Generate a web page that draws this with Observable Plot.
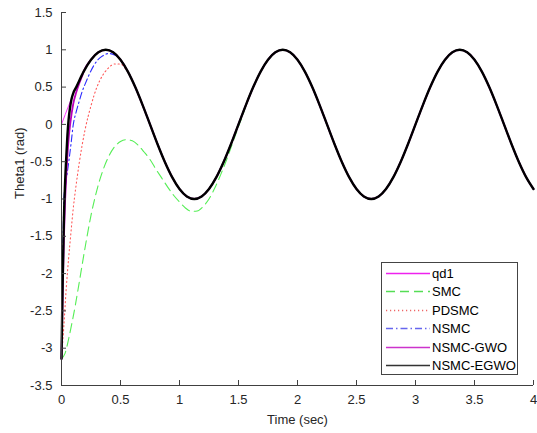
<!DOCTYPE html>
<html><head><meta charset="utf-8">
<script src="https://cdn.jsdelivr.net/npm/d3@7"></script>
<script src="https://cdn.jsdelivr.net/npm/@observablehq/plot@0.6"></script>
<style>
body{margin:0;background:#fff;font-family:Arial,"Liberation Sans",sans-serif;}
#wrap{position:relative;width:537px;height:433px;}
#legend{position:absolute;left:381px;top:262px;width:135px;height:111px;border:1px solid #444;background:#fff;}
</style></head><body>
<div id="wrap"></div>
<script>
// reference trajectory qd1 (rad) sampled every 0.0625 s
const time = [0,0.0625,0.125,0.1875,0.25,0.3125,0.375,0.4375,0.5,0.5625,0.625,0.6875,0.75,0.8125,0.875,0.9375,1,1.0625,1.125,1.1875,1.25,1.3125,1.375,1.4375,1.5,1.5625,1.625,1.6875,1.75,1.8125,1.875,1.9375,2,2.0625,2.125,2.1875,2.25,2.3125,2.375,2.4375,2.5,2.5625,2.625,2.6875,2.75,2.8125,2.875,2.9375,3,3.0625,3.125,3.1875,3.25,3.3125,3.375,3.4375,3.5,3.5625,3.625,3.6875,3.75,3.8125,3.875,3.9375,4];
const qd1 = [0,0.259,0.5,0.707,0.866,0.966,1,0.966,0.866,0.707,0.5,0.259,0,-0.259,-0.5,-0.707,-0.866,-0.966,-1,-0.966,-0.866,-0.707,-0.5,-0.259,0,0.259,0.5,0.707,0.866,0.966,1,0.966,0.866,0.707,0.5,0.259,0,-0.259,-0.5,-0.707,-0.866,-0.966,-1,-0.966,-0.866,-0.707,-0.5,-0.259,0,0.259,0.5,0.707,0.866,0.966,1,0.966,0.866,0.707,0.5,0.259,0,-0.259,-0.5,-0.707,-0.866];

// transient parts of each controller's response (after these they track qd1)
const smcT = [0,0.03,0.06,0.09,0.12,0.15,0.2,0.25,0.3,0.35,0.4,0.45,0.5,0.55,0.6,0.65,0.7,0.75,0.8,0.85,0.9,0.95,1.0,1.05,1.1,1.15,1.2,1.25,1.3,1.35,1.4,1.45,1.5,1.55];
const smcY = [-3.14,-3.07,-2.88,-2.65,-2.4,-2.12,-1.65,-1.22,-0.88,-0.62,-0.43,-0.3,-0.23,-0.205,-0.22,-0.28,-0.37,-0.47,-0.6,-0.72,-0.84,-0.95,-1.04,-1.12,-1.165,-1.16,-1.1,-1.0,-0.85,-0.67,-0.47,-0.25,-0.03,0.19];
const pdsmcT = [0,0.02,0.04,0.06,0.08,0.1,0.12,0.15,0.2,0.25,0.3,0.35,0.4,0.45,0.5,0.55];
const pdsmcY = [-3.14,-2.7,-2.2,-1.8,-1.45,-1.12,-0.86,-0.52,-0.07,0.25,0.5,0.66,0.76,0.81,0.81,0.73];
const nsmcT = [0,0.005,0.01,0.015,0.02,0.04,0.06,0.08,0.1,0.125,0.15,0.175,0.2,0.25,0.3,0.35,0.4,0.45];
const nsmcY = [-3.14,-2.5,-1.9,-1.4,-1.0,-0.75,-0.52,-0.27,0,0.17,0.31,0.44,0.54,0.72,0.85,0.92,0.95,0.93];
const gwoT = [0,0.005,0.01,0.015,0.02,0.03,0.04,0.05,0.06,0.075,0.1,0.125,0.15,0.175];
const gwoY = [-3.14,-2.7,-2.3,-1.9,-1.55,-1.05,-0.7,-0.42,-0.2,0.02,0.28,0.43,0.55,0.65];
const egwoT = [0,0.005,0.01,0.015,0.02,0.03,0.04,0.05,0.06,0.07,0.085,0.1];
const egwoY = [-3.14,-2.6,-2.1,-1.7,-1.3,-0.8,-0.45,-0.15,0.06,0.2,0.34,0.42];

const names = ["qd1","SMC","PDSMC","NSMC","NSMC-GWO","NSMC-EGWO"];
const colors = ["#ff33ff","#55ee55","#ff5a5a","#2a2aff","#bb00bb","#000000"];
const legendColors = ["#ee22ee","#55dd55","#ee6666","#6666ee","#cc33cc","#333333"];
const dashes = [null,"9,5","1.2,2.8","7,3,1.5,3",null,null];
const widths = [1,1.1,1.1,1.1,1.8,2.4];
const xTicks = [0,0.5,1,1.5,2,2.5,3,3.5,4];
const yTicks = [-3.5,-3,-2.5,-2,-1.5,-1,-0.5,0,0.5,1,1.5];
const xLabel = "Time (sec)";
const yLabel = "Theta1 (rad)";

const ref = time.map((t,i)=>({t, y: qd1[i]}));
function series(T, Y){
  const last = T[T.length-1];
  return T.map((t,i)=>({t, y: Y[i]})).concat(ref.filter(d=>d.t>last));
}
const data = [ref, series(smcT,smcY), series(pdsmcT,pdsmcY), series(nsmcT,nsmcY), series(gwoT,gwoY), series(egwoT,egwoY)];

const axisColor = "#404040";
const plot = Plot.plot({
  width: 537, height: 433,
  marginTop: 12, marginBottom: 48, marginLeft: 61, marginRight: 4,
  style: {fontFamily: "Arial, 'Liberation Sans', sans-serif", fontSize: "13px", color: "#262626", background: "#fff"},
  x: {domain: [0,4]},
  y: {domain: [-3.5,1.5]},
  marks: [
    ...data.map((d,i)=>Plot.line(d, {x:"t", y:"y", stroke: colors[i], strokeWidth: widths[i], strokeDasharray: dashes[i], curve: "monotone-x"})),
    Plot.ruleX([0], {stroke: axisColor}),
    Plot.ruleY([-3.5], {stroke: axisColor}),
    Plot.axisX(xTicks, {tickSize: -5, tickPadding: 14, stroke: axisColor, tickFormat: d=>String(d), label: null, fontSize: 13}),
    Plot.axisY(yTicks, {tickSize: -5, tickPadding: 14, stroke: axisColor, tickFormat: d=>String(d), label: null, fontSize: 13}),
    Plot.text([xLabel], {frameAnchor: "bottom", dy: 38, fontSize: 13, fill: "#262626"}),
    Plot.text([yLabel], {frameAnchor: "left", rotate: -90, dx: -42, fontSize: 13, fill: "#262626"})
  ]
});
const wrap = document.getElementById("wrap");
wrap.appendChild(plot);

// legend
const ns = "http://www.w3.org/2000/svg";
const leg = document.createElement("div");
leg.id = "legend";
const svg = document.createElementNS(ns, "svg");
svg.setAttribute("width", 135); svg.setAttribute("height", 111);
svg.style.display = "block";
names.forEach((n,i)=>{
  const cy = Math.round(10 + i*18.4) + 0.5;
  const l = document.createElementNS(ns, "line");
  l.setAttribute("x1", 4); l.setAttribute("x2", 48);
  l.setAttribute("y1", cy); l.setAttribute("y2", cy);
  l.setAttribute("stroke", legendColors[i]);
  l.setAttribute("stroke-width", 1.5);
  if (dashes[i]) l.setAttribute("stroke-dasharray", dashes[i]);
  svg.appendChild(l);
  const tx = document.createElementNS(ns, "text");
  tx.setAttribute("x", 50); tx.setAttribute("y", cy);
  tx.setAttribute("dy", "0.36em");
  tx.setAttribute("font-size", 13);
  tx.setAttribute("font-family", "Arial, 'Liberation Sans', sans-serif");
  tx.setAttribute("fill", "#000");
  tx.textContent = n;
  svg.appendChild(tx);
});
leg.appendChild(svg);
wrap.appendChild(leg);
</script>
</body></html>
